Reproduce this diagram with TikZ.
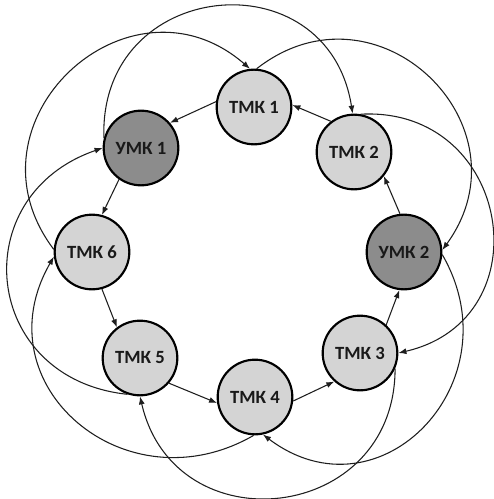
\documentclass[tikz,border=0pt]{standalone}
\usepackage{fontspec}
\setmainfont{Carlito}
\usetikzlibrary{arrows.meta}
\definecolor{tmkfill}{RGB}{212,212,212}
\definecolor{umkfill}{RGB}{140,140,140}
\definecolor{txtc}{RGB}{25,25,25}
\definecolor{linec}{RGB}{30,30,30}
\begin{document}
\begin{tikzpicture}[x=0.75pt,y=-0.75pt,
  tmk/.style={circle, draw=black, line width=1.6pt, fill=tmkfill, minimum size=56pt, inner sep=0pt,
              font=\bfseries\fontsize{14}{16}\selectfont, text=txtc},
  umk/.style={tmk, fill=umkfill},
  link/.style={line width=0.8pt, draw=linec, -{Latex[length=6pt,width=4.5pt]}}]
\useasboundingbox (0,0) rectangle (493,499);
% nodes
\node[tmk] (t1) at (254,107) {ТМК 1};
\node[umk] (u1) at (141,148) {УМК 1};
\node[tmk] (t2) at (354,152) {ТМК 2};
\node[tmk] (t6) at (92,252) {ТМК 6};
\node[umk] (u2) at (404,252) {УМК 2};
\node[tmk] (t5) at (140,358) {ТМК 5};
\node[tmk] (t3) at (360,353) {ТМК 3};
\node[tmk] (t4) at (255,397) {ТМК 4};
% inner ring
\draw[link] (t1.172) -- (u1.41);
\draw[link] (u1.235) -- (t6.75);
\draw[link] (t6.285) -- (t5.127);
\draw[link] (t5.319) -- (t4.189);
\draw[link] (t4.354) -- (t3.228);
\draw[link] (t3.47) -- (u2.263);
\draw[link] (u2.96) -- (t2.321);
\draw[link] (t2.127) -- (t1.3);
% outer arcs
\draw[link] (u1.165) to[out=92,in=99,distance=120pt] (t2.92);
\draw[link] (t6.176) to[out=127,in=139,distance=120pt] (t1.96);
\draw[link] (t1.86) to[out=38,in=54,distance=115pt] (u2.3);
\draw[link] (t2.80) to[out=3,in=13,distance=113pt] (t3.0);
\draw[link] (u2.356) to[out=-60,in=-37,distance=110pt] (t4.282);
\draw[link] (t3.336) to[out=-90,in=-77,distance=116pt] (t5.270);
\draw[link] (t4.268) to[out=-150,in=240,distance=111pt] (t6.187);
\draw[link] (t5.251) to[out=174,in=199,distance=110pt] (u1.180);
\end{tikzpicture}
\end{document}
